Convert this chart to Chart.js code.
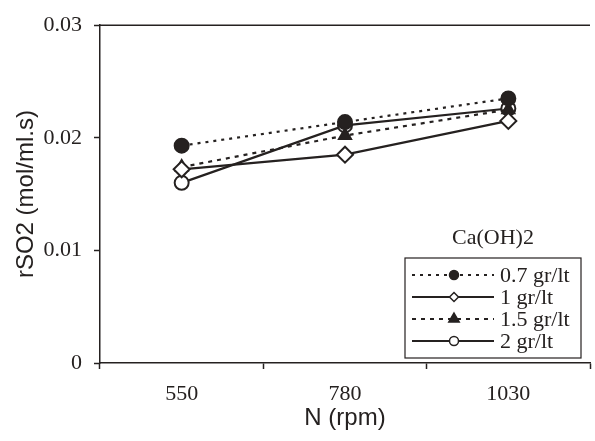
<!DOCTYPE html>
<html>
<head>
<meta charset="utf-8">
<script src="https://cdn.jsdelivr.net/npm/chart.js@4"></script>
<style>
  html, body { margin: 0; padding: 0; overflow: hidden; background: #fff; }
  canvas { display: block; }
</style>
</head>
<body>
<canvas id="chart" width="600" height="441"></canvas>
<script>
const speeds = ['550', '780', '1030']
const conc07 = [0.0193, 0.0214, 0.0235]
const conc1 = [0.0172, 0.0185, 0.0215]
const conc15 = [0.0174, 0.0202, 0.0225]
const conc2 = [0.0160, 0.0211, 0.0226]
const legendTitle = 'Ca(OH)2'

const ink = '#252120'
const serif = '"Liberation Serif", "Times New Roman", serif'
const sans = '"Liberation Sans", Arial, sans-serif'

const series = (label, data, dash, style, fill, radius) => ({
  label,
  data,
  borderColor: ink,
  borderWidth: 2.2,
  borderDash: dash,
  pointStyle: style,
  pointRadius: radius,
  pointBorderWidth: 2,
  pointBorderColor: ink,
  pointBackgroundColor: fill ? ink : '#fff',
  tension: 0
})

const framePlugin = {
  id: 'framePlugin',
  afterDraw: (chart) => {
    const { ctx, chartArea } = chart
    ctx.save()
    ctx.strokeStyle = ink
    ctx.lineWidth = 1.5
    ctx.beginPath()
    ctx.moveTo(chartArea.left, chartArea.top)
    ctx.lineTo(chartArea.right, chartArea.top)
    ctx.stroke()

    // legend box inside the plot, with its title above it
    const right = chartArea.right - 9
    const left = right - 176
    const top = chartArea.bottom - 105
    const bottom = chartArea.bottom - 5
    ctx.fillStyle = '#fff'
    ctx.fillRect(left, top, right - left, bottom - top)
    ctx.lineWidth = 1.2
    ctx.strokeRect(left, top, right - left, bottom - top)

    ctx.fillStyle = ink
    ctx.font = '22px ' + serif
    ctx.textAlign = 'center'
    ctx.textBaseline = 'middle'
    ctx.fillText(legendTitle, (left + right) / 2, top - 20)

    ctx.textAlign = 'left'
    chart.data.datasets.forEach((ds, i) => {
      const y = top + 17 + i * 22
      ctx.save()
      ctx.strokeStyle = ink
      ctx.lineWidth = 2
      ctx.setLineDash(ds.borderDash || [])
      ctx.beginPath()
      ctx.moveTo(left + 7, y)
      ctx.lineTo(left + 89, y)
      ctx.stroke()
      ctx.setLineDash([])
      ctx.fillStyle = ds.pointBackgroundColor
      ctx.strokeStyle = ink
      ctx.lineWidth = 1.5
      Chart.helpers.drawPoint(ctx, {
        pointStyle: ds.pointStyle,
        radius: ds.pointStyle === 'triangle' ? 6 : 4.5,
        rotation: 0,
        borderWidth: 1.5
      }, left + 49, y)
      ctx.restore()
      ctx.fillStyle = ink
      ctx.fillText(ds.label, left + 95, y + 1)
    })
    ctx.restore()
  }
}

new Chart(document.getElementById('chart').getContext('2d'), {
  type: 'line',
  data: {
    labels: speeds,
    datasets: [
      series('0.7 gr/lt', conc07, [3, 5], 'circle', true, 7),
      series('1 gr/lt', conc1, [], 'rectRot', false, 8),
      series('1.5 gr/lt', conc15, [4, 5], 'triangle', true, 7),
      series('2 gr/lt', conc2, [], 'circle', false, 7)
    ]
  },
  options: {
    responsive: false,
    animation: false,
    layout: { padding: { top: 20, right: 2, left: 0, bottom: 0 } },
    plugins: {
      legend: { display: false },
      tooltip: { enabled: false }
    },
    scales: {
      x: {
        offset: true,
        afterFit: (s) => { s.height = 78 },
        grid: {
          offset: true,
          drawOnChartArea: false,
          drawTicks: true,
          tickLength: 6,
          tickWidth: 1.5,
          color: ink
        },
        border: { color: ink, width: 1.5 },
        ticks: { color: ink, font: { family: serif, size: 22 }, padding: 12 },
        title: {
          display: true,
          text: 'N (rpm)',
          color: ink,
          font: { family: sans, size: 24 },
          padding: { top: 0, bottom: 8 }
        }
      },
      y: {
        min: 0,
        max: 0.03,
        afterFit: (s) => { s.width = 100 },
        grid: {
          drawOnChartArea: false,
          drawTicks: true,
          tickLength: 6,
          tickWidth: 1.5,
          color: ink
        },
        border: { color: ink, width: 1.5 },
        ticks: {
          stepSize: 0.01,
          color: ink,
          font: { family: serif, size: 22 },
          padding: 12
        },
        title: {
          display: true,
          text: 'rSO2 (mol/ml.s)',
          color: ink,
          font: { family: sans, size: 24 },
          padding: { top: 12, bottom: 0 }
        }
      }
    }
  },
  plugins: [framePlugin]
})
</script>
</body>
</html>
